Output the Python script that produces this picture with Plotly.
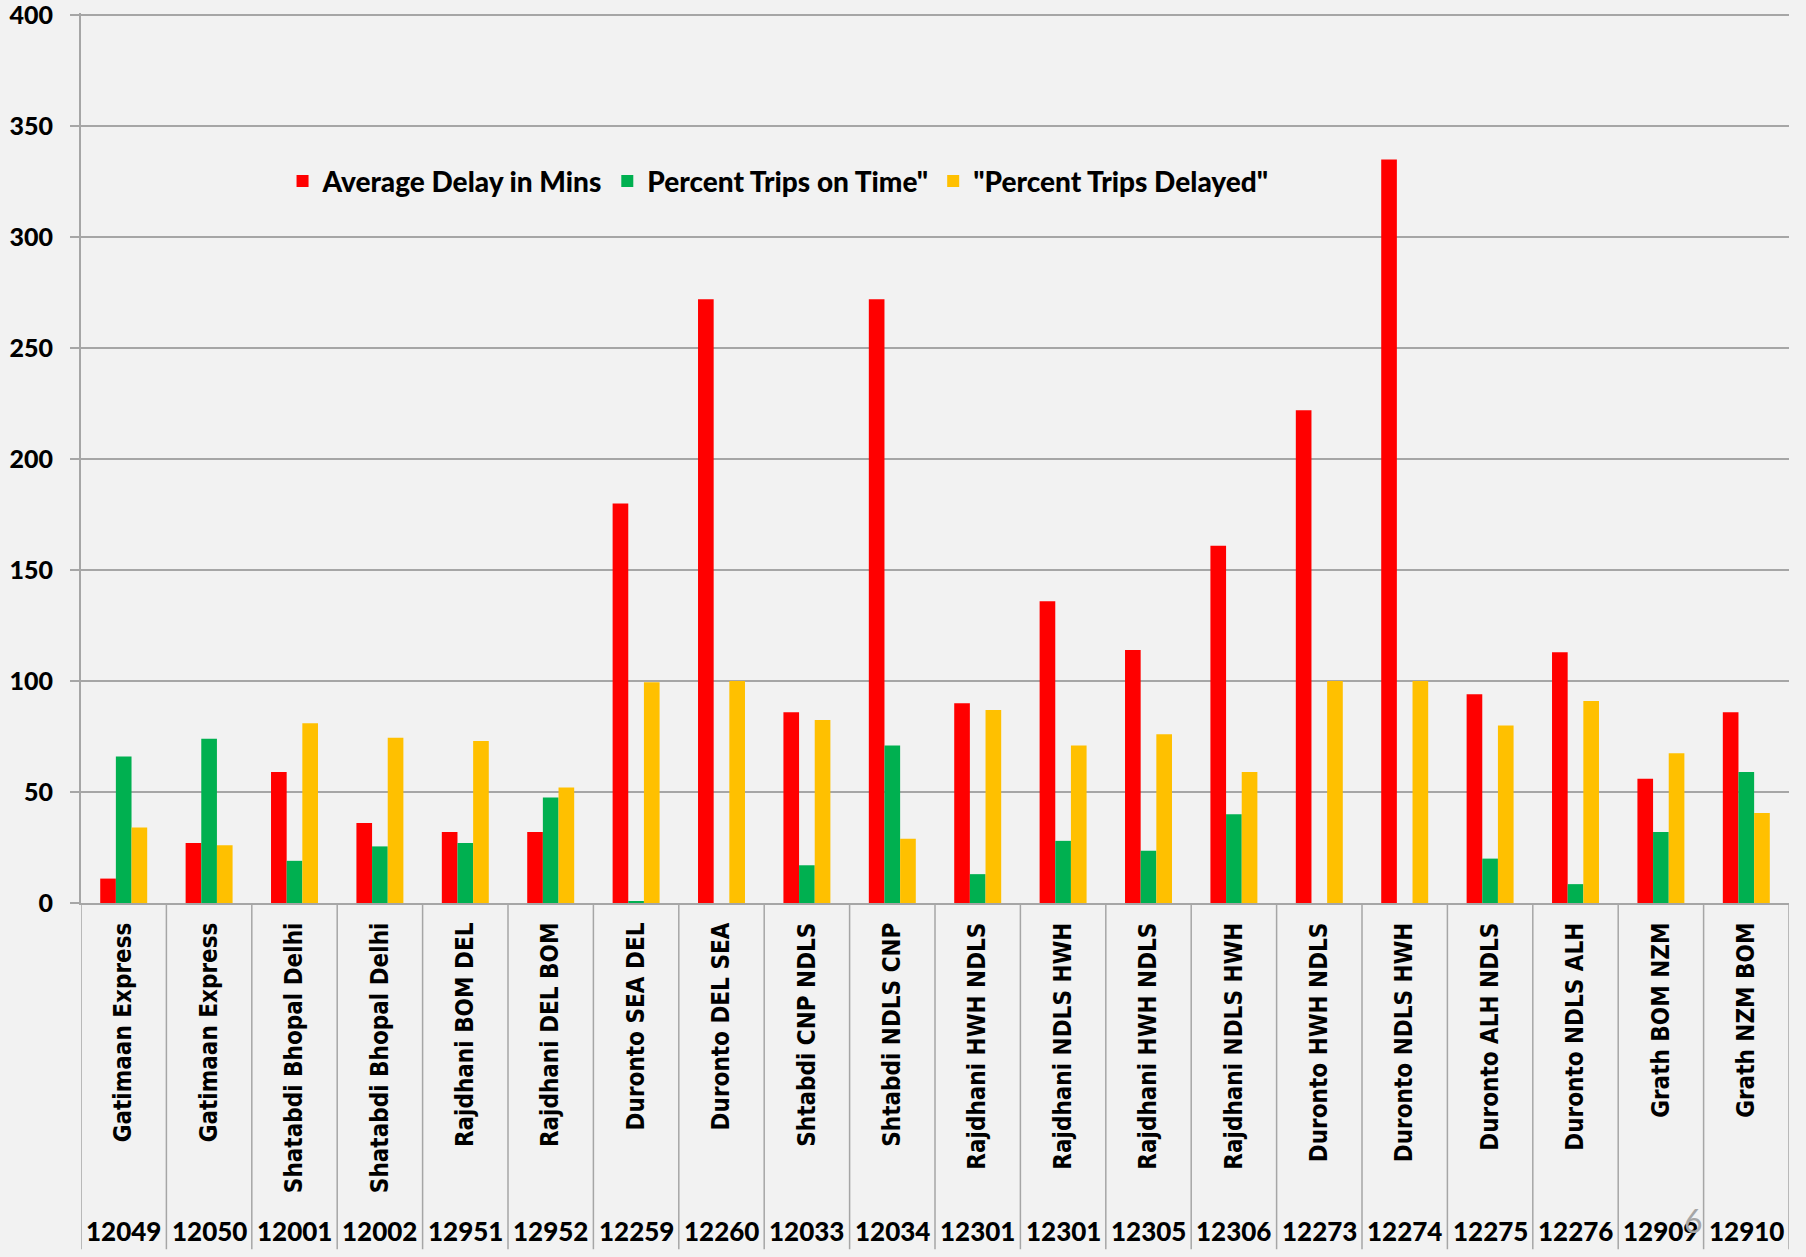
import plotly.graph_objects as go

names = ["Gatimaan Express", "Gatimaan Express", "Shatabdi Bhopal Delhi", "Shatabdi Bhopal Delhi",
         "Rajdhani BOM DEL", "Rajdhani DEL BOM", "Duronto SEA DEL", "Duronto DEL SEA",
         "Shtabdi CNP NDLS", "Shtabdi NDLS CNP", "Rajdhani HWH NDLS", "Rajdhani NDLS HWH",
         "Rajdhani HWH NDLS", "Rajdhani NDLS HWH", "Duronto HWH NDLS", "Duronto NDLS HWH",
         "Duronto ALH NDLS", "Duronto NDLS ALH", "Grath BOM NZM", "Grath NZM BOM"]
numbers = ["12049", "12050", "12001", "12002", "12951", "12952", "12259", "12260", "12033", "12034",
           "12301", "12301", "12305", "12306", "12273", "12274", "12275", "12276", "12909", "12910"]

avg_delay = [11, 27, 59, 36, 32, 32, 180, 272, 86, 272, 90, 136, 114, 161, 222, 335, 94, 113, 56, 86]
on_time = [66, 74, 19, 25.5, 27, 47.5, 0.5, 0, 17, 71, 13, 28, 23.5, 40, 0, 0, 20, 8.5, 32, 59]
delayed = [34, 26, 81, 74.5, 73, 52, 99.5, 100, 82.5, 29, 87, 71, 76, 59, 100, 100, 80, 91, 67.5, 40.5]

y_ticks = [0, 50, 100, 150, 200, 250, 300, 350, 400]

series_names = ["Average Delay in Mins", "Percent Trips on Time\"", "\"Percent Trips Delayed\""]
series_colors = ["#FF0000", "#00B050", "#FFC000"]

keys = [f"{n}|{name}" for n, name in zip(numbers, names)]

fig = go.Figure()
for nm, vals, col in zip(series_names, [avg_delay, on_time, delayed], series_colors):
    fig.add_trace(go.Bar(x=keys, y=vals, name=nm, marker=dict(color=col, line=dict(width=0))))

grid = "#A6A6A6"
NAME_FONT = "DejaVu Sans Condensed, DejaVu Sans, sans-serif"
fig.update_layout(
    width=1806, height=1257,
    margin=dict(l=81, r=17, t=13, b=354, pad=0, autoexpand=False),
    paper_bgcolor="#F2F2F2", plot_bgcolor="#F2F2F2",
    barmode="group", bargap=0.45, bargroupgap=0,
    font=dict(family="Lato", color="#000000"),
    legend=dict(orientation="h", x=0.118, y=0.811, xanchor="left", yanchor="middle",
                bgcolor="rgba(0,0,0,0)", font=dict(family="Lato", size=28, weight=900),
                itemwidth=30, traceorder="normal"),
    showlegend=True,
)
fig.update_yaxes(range=[0, 401], tickmode="array", tickvals=y_ticks,
                 showgrid=True, gridcolor=grid, gridwidth=2,
                 showline=True, linecolor=grid, linewidth=2, ticks="outside", ticklen=9,
                 tickcolor=grid, tickwidth=2, zeroline=False, automargin=False,
                 ticklabeloverflow="allow",
                 tickfont=dict(family="Lato", size=25, weight=900), ticklabelstandoff=12)
fig.update_xaxes(type="category", tickmode="array", tickvals=keys, ticktext=names, tickangle=-90,
                 showline=True, linecolor=grid, linewidth=2, ticks="", showgrid=False,
                 automargin=False,
                 tickfont=dict(family=NAME_FONT, size=24, weight=700), ticklabelstandoff=8,
                 range=[-0.5, len(keys) - 0.5])

# category separators and train numbers
for i, k in enumerate(keys):
    fig.add_annotation(x=k, xref="x", y=-0.3687, yref="paper", text=numbers[i], showarrow=False,
                       font=dict(family="Lato", size=26, weight=900, color="#000000"),
                       xanchor="center", yanchor="middle")
for i in range(len(keys) + 1):
    fig.add_shape(type="line", xref="x", yref="paper", x0=i - 0.5, x1=i - 0.5, y0=0, y1=-0.389,
                  line=dict(color=grid, width=1.5))

fig.add_annotation(x=0.951, xref="paper", y=-0.381, yref="paper", text="6", showarrow=False,
                   font=dict(family="Lato", size=32, color="#A6A6A6"))

fig.write_html("out.html")
